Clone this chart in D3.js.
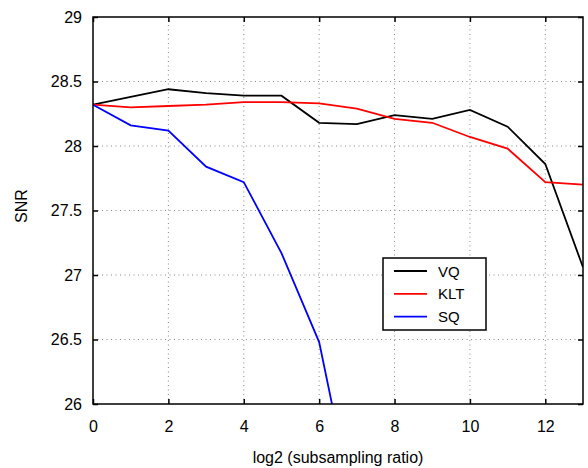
<!DOCTYPE html>
<html>
<head>
<meta charset="utf-8">
<script src="https://cdn.jsdelivr.net/npm/d3@7"></script>
<style>
  body { margin: 0; background: #fff; }
  text { font-family: "Liberation Sans", Arial, sans-serif; }
</style>
</head>
<body>
<div id="chart"></div>
<script>
var width = 588, height = 468;
var margin = {left: 93, right: 5, top: 17, bottom: 64};

var xs = [0, 1, 2, 3, 4, 5, 6, 7, 8, 9, 10, 11, 12, 13];
var vq  = [28.32, 28.38, 28.44, 28.41, 28.39, 28.39, 28.18, 28.17, 28.24, 28.21, 28.28, 28.15, 27.86, 27.06];
var klt = [28.32, 28.30, 28.31, 28.32, 28.34, 28.34, 28.33, 28.29, 28.21, 28.18, 28.07, 27.98, 27.72, 27.70];
var sq  = [28.32, 28.16, 28.12, 27.84, 27.72, 27.17, 26.48, 25.07];
var xTicks = [0, 2, 4, 6, 8, 10, 12];
var yTicks = [26, 26.5, 27, 27.5, 28, 28.5, 29];
var seriesNames = ['VQ', 'KLT', 'SQ'];
var seriesColors = ['#000000', '#ff0000', '#0000ff'];

var svg = d3.select('#chart').append('svg')
  .attr('width', width)
  .attr('height', height);

var x = d3.scaleLinear().domain([0, 13]).range([margin.left, width - margin.right]);
var y = d3.scaleLinear().domain([26, 29]).range([height - margin.bottom, margin.top]);

// grid
svg.append('g').selectAll('line').data(xTicks.slice(1))
  .enter().append('line')
  .attr('x1', d => x(d)).attr('x2', d => x(d))
  .attr('y1', y(26)).attr('y2', y(29))
  .attr('stroke', '#888').attr('stroke-width', 1).attr('stroke-dasharray', '1,3.5');
svg.append('g').selectAll('line').data(yTicks.slice(1, -1))
  .enter().append('line')
  .attr('x1', x(0)).attr('x2', x(13))
  .attr('y1', d => y(d)).attr('y2', d => y(d))
  .attr('stroke', '#888').attr('stroke-width', 1).attr('stroke-dasharray', '1,3.5');

// axes with inner ticks
svg.append('g')
  .attr('transform', 'translate(0,' + y(26) + ')')
  .call(d3.axisBottom(x).tickValues(xTicks).tickSizeInner(-5).tickSizeOuter(0).tickPadding(17))
  .call(g => g.select('.domain').remove());
svg.append('g')
  .attr('transform', 'translate(0,' + y(29) + ')')
  .call(d3.axisTop(x).tickValues(xTicks).tickSizeInner(-5).tickSizeOuter(0).tickFormat(''))
  .call(g => g.select('.domain').remove());
svg.append('g')
  .attr('transform', 'translate(' + x(0) + ',0)')
  .call(d3.axisLeft(y).tickValues(yTicks).tickSizeInner(-5).tickSizeOuter(0).tickPadding(11).tickFormat(d3.format('')))
  .call(g => g.select('.domain').remove());
svg.append('g')
  .attr('transform', 'translate(' + x(13) + ',0)')
  .call(d3.axisRight(y).tickValues(yTicks).tickSizeInner(-5).tickSizeOuter(0).tickFormat(''))
  .call(g => g.select('.domain').remove());

svg.selectAll('.tick line').attr('stroke', '#000').attr('stroke-width', 1.5);
svg.selectAll('.tick text').attr('font-size', 16).attr('fill', '#000')
  .style('font-family', '"Liberation Sans", Arial, sans-serif');

// clip
svg.append('clipPath').attr('id', 'clip').append('rect')
  .attr('x', x(0)).attr('y', y(29))
  .attr('width', x(13) - x(0)).attr('height', y(26) - y(29));

var line = d3.line().x((d, i) => x(xs[i])).y(d => y(d));
[vq, klt, sq].forEach(function(s, i) {
  svg.append('path')
    .datum(s)
    .attr('clip-path', 'url(#clip)')
    .attr('fill', 'none')
    .attr('stroke', seriesColors[i])
    .attr('stroke-width', 1.8)
    .attr('d', line);
});

// frame
svg.append('rect')
  .attr('x', x(0)).attr('y', y(29))
  .attr('width', x(13) - x(0)).attr('height', y(26) - y(29))
  .attr('fill', 'none').attr('stroke', '#000').attr('stroke-width', 1.5);

// legend
var lg = svg.append('g').attr('transform', 'translate(383,258)');
lg.append('rect').attr('width', 103).attr('height', 72)
  .attr('fill', '#fff').attr('stroke', '#000').attr('stroke-width', 1.5);
seriesNames.forEach(function(n, i) {
  var yy = 13 + i * 22.8;
  lg.append('line').attr('x1', 11).attr('x2', 44).attr('y1', yy).attr('y2', yy)
    .attr('stroke', seriesColors[i]).attr('stroke-width', 1.8);
  lg.append('text').attr('x', 55).attr('y', yy + 5.5).attr('font-size', 15).text(n);
});

// axis labels
svg.append('text')
  .attr('x', x(6.5)).attr('y', 463)
  .attr('text-anchor', 'middle').attr('font-size', 16)
  .text('log2 (subsampling ratio)');
svg.append('text')
  .attr('transform', 'translate(27,206) rotate(-90)')
  .attr('text-anchor', 'middle').attr('font-size', 16)
  .text('SNR');
</script>
</body>
</html>
